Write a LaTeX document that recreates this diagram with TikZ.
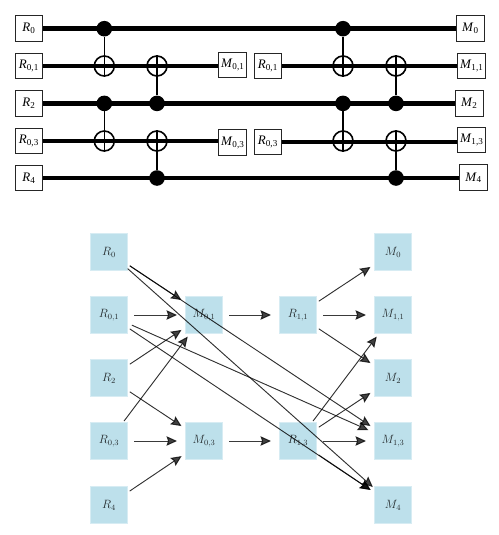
\documentclass[tikz,border=0pt]{standalone}
\usepackage{fontspec}
\setmainfont{Liberation Serif}
\usetikzlibrary{arrows.meta}
\newcommand{\tl}[2]{\textit{#1}\textsubscript{#2}}
\tikzset{
  reg/.style={draw=black!85,line width=1pt,fill=white,inner sep=0pt,minimum width=27.5pt,minimum height=25.5pt,font=\fontsize{13}{14}\selectfont},
  wire/.style={line width=4.4pt,black},
  ctl/.style={circle,fill=black,inner sep=0pt,minimum size=15.6pt},
  tgt/.style={circle,draw=black,line width=1.6pt,inner sep=0pt,minimum size=20pt},
  cn/.style={line width=1.6pt,black},
  sq/.style={draw=lightblue!60,line width=.8pt,fill=lightblue,inner sep=0pt,minimum size=37.5pt,text opacity=.8,font=\fontsize{11.5}{13}\selectfont},
  edge/.style={draw=black,fill=black,opacity=.75,line width=.95pt,shorten <=25pt,shorten >=27pt,-{Stealth[length=10.5pt,width=9.5pt,inset=1.5pt]}},
}
\definecolor{lightblue}{HTML}{BDE0EB}
\begin{document}
\begin{tikzpicture}[x=1pt,y=-1pt]
\useasboundingbox (0,0) rectangle (498,535);
% circuit boxes
\node[reg] (a0) at (28.9,28.7) {\tl{R}{0}};
\node[reg] (a1) at (28.9,66) {\tl{R}{0,1}};
\node[reg] (a2) at (28.9,103.4) {\tl{R}{2}};
\node[reg] (a3) at (28.9,141) {\tl{R}{0,3}};
\node[reg] (a4) at (28.9,178) {\tl{R}{4}};
\node[reg] (m1) at (232.7,65) {\tl{M}{0,1}};
\node[reg] (m3) at (232.7,142.7) {\tl{M}{0,3}};
\node[reg] (b1) at (267.9,66) {\tl{R}{0,1}};
\node[reg] (b3) at (267.9,142) {\tl{R}{0,3}};
\node[reg] (c0) at (470.4,28.7) {\tl{M}{0}};
\node[reg] (c1) at (471.7,65.8) {\tl{M}{1,1}};
\node[reg] (c2) at (469.3,103.4) {\tl{M}{2}};
\node[reg] (c3) at (471.7,140) {\tl{M}{1,3}};
\node[reg] (c4) at (473.5,177.7) {\tl{M}{4}};
% wires
\draw[wire] (a0.east) -- (c0.west |- a0.east);
\draw[wire] (a1.east) -- (m1.west |- a1.east);
\draw[wire] (a2.east) -- (c2.west |- a2.east);
\draw[wire] (a3.east) -- (m3.west |- a3.east);
\draw[wire] (a4.east) -- (c4.west |- a4.east);
\draw[wire] (b1.east) -- (c1.west |- b1.east);
\draw[wire] (b3.east) -- (c3.west |- b3.east);
% gates
\node[ctl] (d1) at (104.3,28.7) {};
\node[tgt] (t1) at (104.3,66) {};
\node[ctl] (d2) at (104.3,103.4) {};
\node[tgt] (t2) at (104.3,141) {};
\node[tgt] (t3) at (157,66) {};
\node[ctl] (d3) at (157,103.4) {};
\node[tgt] (t4) at (157,141) {};
\node[ctl] (d4) at (157,178) {};
\node[ctl] (d5) at (343,28.7) {};
\node[tgt] (t5) at (343,66) {};
\node[ctl] (d6) at (343,103.4) {};
\node[tgt] (t6) at (343,141) {};
\node[tgt] (t7) at (396,66) {};
\node[ctl] (d7) at (396,103.4) {};
\node[tgt] (t8) at (396,141) {};
\node[ctl] (d8) at (396,178) {};
\draw[cn] (d1) -- (t1.south);
\draw[cn] (d2) -- (t2.south);
\draw[cn] (d3) -- (t3.north);
\draw[cn] (d4) -- (t4.north);
\draw[cn] (d5) -- (t5.south);
\draw[cn] (d6) -- (t6.south);
\draw[cn] (d7) -- (t7.north);
\draw[cn] (d8) -- (t8.north);
% graph
\node[sq] (R0) at (109,252) {$R_0$};
\node[sq] (R01) at (109,315) {$R_{0,1}$};
\node[sq] (R2) at (109,378) {$R_2$};
\node[sq] (R03) at (109,441) {$R_{0,3}$};
\node[sq] (R4) at (109,505) {$R_4$};
\node[sq] (M01) at (204,315) {$M_{0,1}$};
\node[sq] (M03) at (204,441) {$M_{0,3}$};
\node[sq] (R11) at (298,315) {$R_{1,1}$};
\node[sq] (R13) at (298,441) {$R_{1,3}$};
\node[sq] (M0) at (393,252) {$M_0$};
\node[sq] (M11) at (393,315) {$M_{1,1}$};
\node[sq] (M2) at (393,378) {$M_2$};
\node[sq] (M13) at (393,441) {$M_{1,3}$};
\node[sq] (M4) at (393,505) {$M_4$};
\foreach \s/\t in {R0/M01,R01/M01,R2/M01,R03/M01,R2/M03,R03/M03,R4/M03,
  M01/R11,M03/R13,R11/M0,R11/M11,R11/M2,R13/M11,R13/M2,R13/M13,R13/M4,
  R0/M13,R0/M4,R01/M13,R01/M4}
  \draw[edge] (\s.center) -- (\t.center);
\end{tikzpicture}
\end{document}
